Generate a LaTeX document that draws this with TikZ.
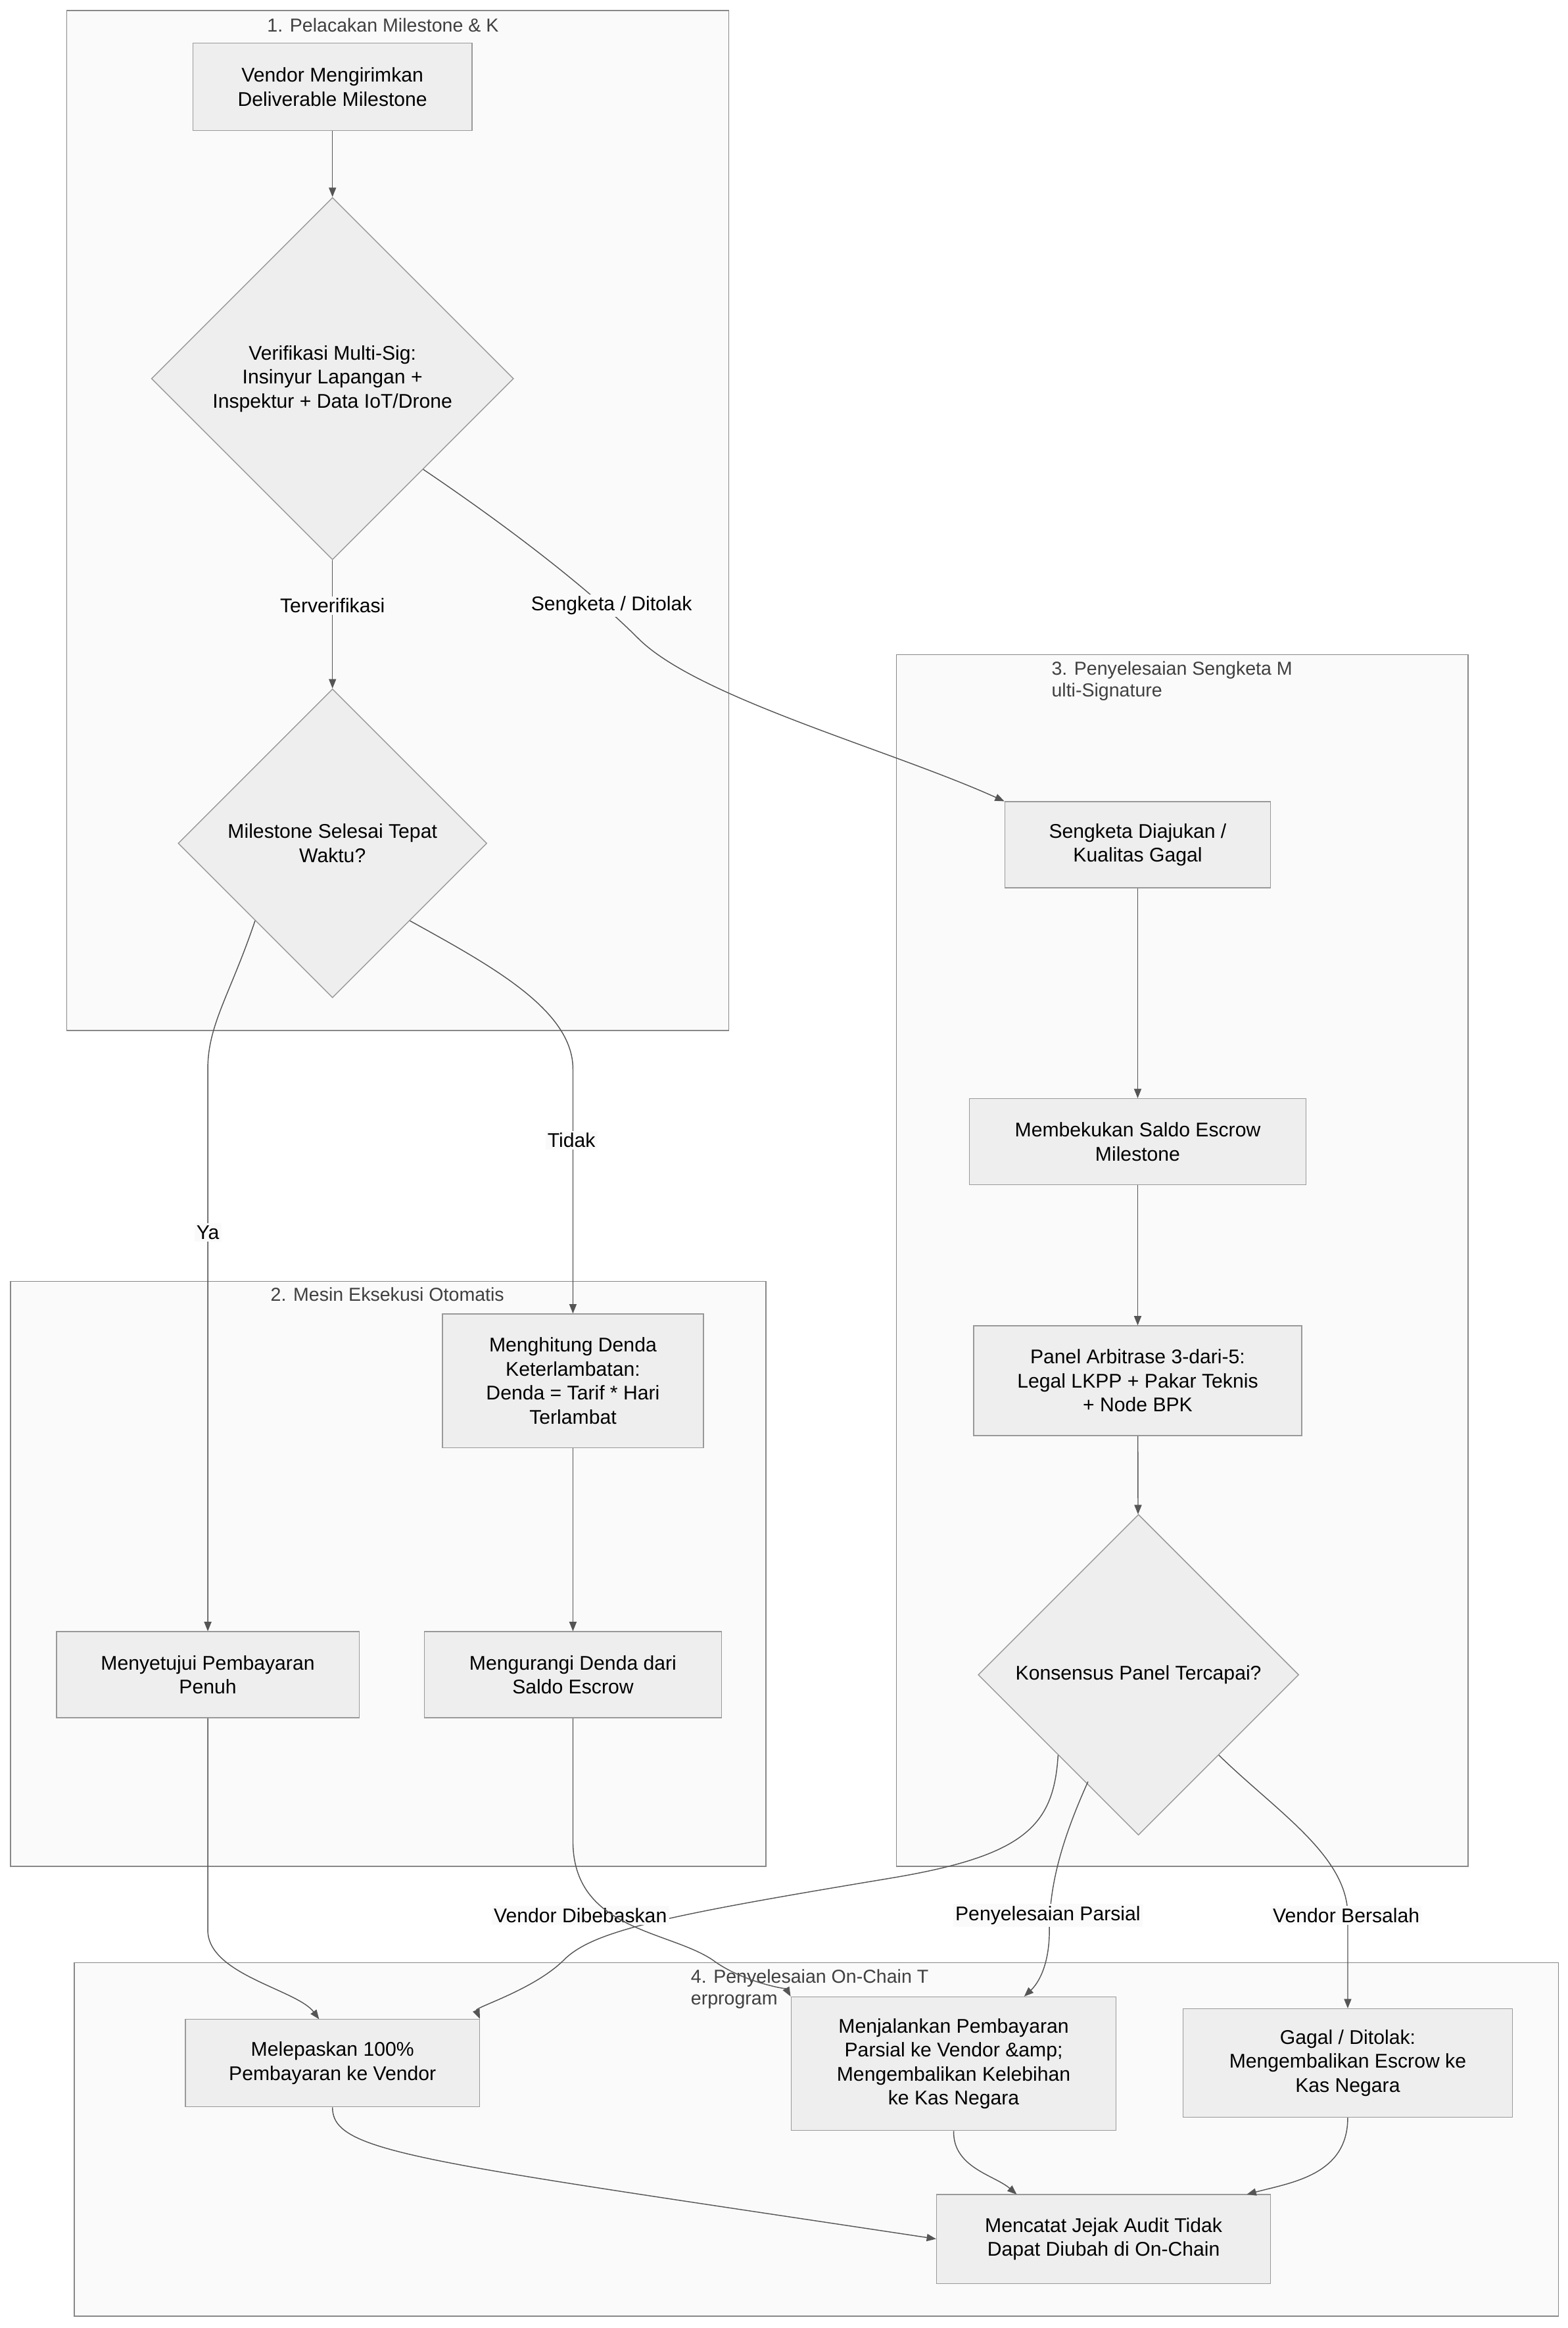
\documentclass[tikz,border=0pt]{standalone}
\usepackage{fontspec}
\setmainfont{Liberation Sans}
\usetikzlibrary{shapes.geometric,arrows.meta}
\definecolor{cl}{HTML}{FAFAFA}
\definecolor{clb}{HTML}{888888}
\definecolor{nf}{HTML}{EEEEEE}
\definecolor{nb}{HTML}{999999}
\definecolor{ed}{HTML}{555555}
\begin{document}
\begin{tikzpicture}[x=0.5mm,y=-0.5mm,
  font=\fontsize{19}{23}\selectfont,
  clus/.style={draw=clb,fill=cl,line width=0.9pt},
  ctitle/.style={text=black!75,font=\fontsize{18}{21}\selectfont},
  box/.style={draw=nb,fill=nf,line width=0.9pt,align=center,inner sep=0pt},
  dia/.style={diamond,draw=nb,fill=nf,line width=0.9pt,align=center,inner sep=0pt},
  e/.style={draw=ed,line width=0.9pt,-{Triangle[length=9pt,width=7pt]}},
  lab/.style={fill=cl,inner sep=2pt}]
\useasboundingbox (0,0) rectangle (1056,1568);
\fill[white] (0,0) rectangle (1056,1568);
% clusters
\draw[clus] (45,7) rectangle (491,694);
\node[ctitle] (t1) at (258,17) {1. Pelacakan Milestone \& K};
\draw[clus] (604,441) rectangle (989,1257);
\node[ctitle,align=left,anchor=north west] (t3) at (706,443) {3. Penyelesaian Sengketa M\\ulti-Signature};
\draw[clus] (7,863) rectangle (516,1257);
\node[ctitle] (t2) at (261,872) {2. Mesin Eksekusi Otomatis};
\draw[clus] (50,1322) rectangle (1050,1560);
\node[ctitle,align=left,anchor=north west] (t4) at (463,1324) {4. Penyelesaian On-Chain T\\erprogram};
% nodes
\node[box,minimum width=188*0.5mm,minimum height=59*0.5mm] (A) at (224,58.5) {Vendor Mengirimkan\\Deliverable Milestone};
\node[dia,minimum width=244*0.5mm,minimum height=244*0.5mm] (B) at (224,255) {Verifikasi Multi-Sig:\\Insinyur Lapangan +\\Inspektur + Data IoT/Drone};
\node[dia,minimum width=208*0.5mm,minimum height=208*0.5mm] (C) at (224,568) {Milestone Selesai Tepat\\Waktu?};
\node[box,minimum width=179*0.5mm,minimum height=58*0.5mm] (D) at (766.5,569) {Sengketa Diajukan /\\Kualitas Gagal};
\node[box,minimum width=227*0.5mm,minimum height=58*0.5mm] (E) at (766.5,769) {Membekukan Saldo Escrow\\Milestone};
\node[box,minimum width=221*0.5mm,minimum height=74*0.5mm] (F) at (766.5,930) {Panel Arbitrase 3-dari-5:\\Legal LKPP + Pakar Teknis\\+ Node BPK};
\node[dia,minimum width=216*0.5mm,minimum height=216*0.5mm] (G) at (767,1128) {Konsensus Panel Tercapai?};
\node[box,minimum width=176*0.5mm,minimum height=90*0.5mm] (H) at (386,930) {Menghitung Denda\\Keterlambatan:\\Denda = Tarif * Hari\\Terlambat};
\node[box,minimum width=200*0.5mm,minimum height=58*0.5mm] (I) at (386,1128) {Mengurangi Denda dari\\Saldo Escrow};
\node[box,minimum width=204*0.5mm,minimum height=58*0.5mm] (J) at (140,1128) {Menyetujui Pembayaran\\Penuh};
\node[box,minimum width=198*0.5mm,minimum height=59*0.5mm] (K) at (224,1389.5) {Melepaskan 100\%\\Pembayaran ke Vendor};
\node[box,minimum width=219*0.5mm,minimum height=90*0.5mm] (L) at (642.5,1390) {Menjalankan Pembayaran\\Parsial ke Vendor \&amp;\\Mengembalikan Kelebihan\\ke Kas Negara};
\node[box,minimum width=222*0.5mm,minimum height=73*0.5mm] (M) at (908,1389.5) {Gagal / Ditolak:\\Mengembalikan Escrow ke\\Kas Negara};
\node[box,minimum width=225*0.5mm,minimum height=60*0.5mm] (N) at (743.5,1508) {Mencatat Jejak Audit Tidak\\Dapat Diubah di On-Chain};
% edges
\draw[e] (A) -- (B);
\draw[e] (B) -- (C);
\node[lab] (lb1) at (224,408) {Terverifikasi};
\draw[e] (B.south east) .. controls (350,360) and (400,400) .. (430,430) .. controls (470,470) and (600,505) .. (D.north west);
\node[lab] (lb2) at (412,408) {Sengketa / Ditolak};
\draw[e] (C.south west) .. controls (155,670) and (140,690) .. (140,720) -- (J.north);
\node[lab] (lb3) at (140,830) {Ya};
\draw[e] (C.south east) .. controls (330,650) and (386,680) .. (386,720) -- (H.north);
\node[lab] (lb4) at (385,768) {Tidak};
\draw[e] (D) -- (E);
\draw[e] (E) -- (F);
\draw[e] (F) -- (G);
\draw[e] (H) -- (I);
\draw[e] (G.south west) .. controls (710,1230) and (690,1250) .. (600,1265) .. controls (450,1290) and (400,1300) .. (380,1320) .. controls (360,1340) and (320,1352) .. (K.north east);
\node[lab] (lb5) at (391,1290) {Vendor Dibebaskan};
\draw[e] (733,1200) .. controls (715,1240) and (707,1270) .. (707,1300) .. controls (707,1330) and (695,1340) .. (L.north east -| 690,1345);
\node[lab] (lb6) at (706,1290) {Penyelesaian Parsial};
\draw[e] (G.south east) .. controls (860,1220) and (908,1250) .. (908,1290) -- (M.north);
\node[lab] (lb7) at (907,1290) {Vendor Bersalah};
\draw[e] (I.south) -- (386,1240) .. controls (386,1300) and (450,1300) .. (480,1320) .. controls (500,1335) and (530,1340) .. (L.north west);
\draw[e] (J.south) -- (140,1300) .. controls (140,1330) and (200,1340) .. (215,1360);
\draw[e] (K.south) .. controls (224,1450) and (280,1455) .. (N.west);
\draw[e] (L.south) .. controls (642,1460) and (670,1465) .. (685,1478);
\draw[e] (M.south) .. controls (908,1465) and (870,1470) .. (840,1478);
\end{tikzpicture}
\end{document}
